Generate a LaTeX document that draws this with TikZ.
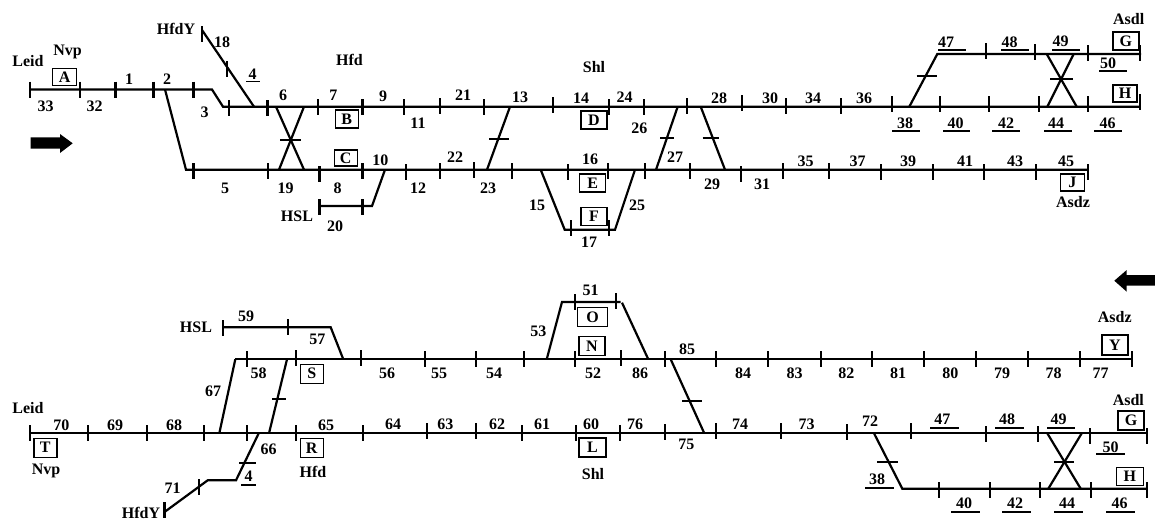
\documentclass[tikz,border=0pt]{standalone}
\usepackage{fontspec}
\setmainfont{Liberation Serif}
\tikzset{
  trk/.style={line width=2.2pt},
  tckl/.style={line width=2.2pt},
  bar/.style={line width=2pt},
  ul/.style={line width=1.6pt},
  num/.style={font=\fontsize{16}{18}\selectfont\bfseries,inner sep=0pt},
  stn/.style={draw,line width=1.4pt,font=\fontsize{16}{18}\selectfont\bfseries,inner sep=0pt,minimum width=#1,minimum height=18pt},
  stn/.default=25pt
}
\newcommand{\tck}[2]{\draw[tckl] (#1,#2-8) -- (#1,#2+8);}
\newcommand{\ul}[3]{\draw[ul] (#1,#3) -- (#2,#3);}
\begin{document}
\begin{tikzpicture}[x=1pt,y=-1pt]
\useasboundingbox (0,0) rectangle (1155,520);

% ============ upper plan: tracks ============
\draw[trk] (30,89.5) -- (212,89.5) -- (223,106.7) -- (1140,106.7);
\draw[trk] (165,89.5) -- (186,169.7) -- (1088,169.7);
\draw[trk] (202,30) -- (254,106.7);
\draw[trk] (385,169.7) -- (372,206) -- (319.5,206);
\draw[trk] (276,106.7) -- (304,169.7);
\draw[trk] (304,106.7) -- (279,169.7);
\draw[trk] (510,106.7) -- (487,169.7);
\draw[trk] (677.7,106.7) -- (656,169.7);
\draw[trk] (700.7,106.7) -- (725,169.7);
\draw[trk] (540.7,169.7) -- (564.7,229.7) -- (615,229.7) -- (635,169.7);
\draw[trk] (909.3,106.7) -- (937.3,54) -- (1141,54);
\draw[trk] (1046.7,54) -- (1076.7,106.7);
\draw[trk] (1073.7,54) -- (1047.3,106.7);

% ticks
\tck{30}{89.5} \tck{80}{89.5} \tck{115.5}{89.5} \tck{153.5}{89.5} \tck{193.5}{89.5}
\tck{202}{34} \tck{227}{69}
\tck{229}{108} \tck{267.5}{108} \tck{318}{107} \tck{362.5}{107} \tck{404.3}{107} \tck{440}{106} \tck{484}{107}
\tck{552.7}{105} \tck{609.3}{107} \tck{644}{107} \tck{687.3}{106} \tck{741.7}{103} \tck{786}{106} \tck{840.7}{106} \tck{891.7}{104}
\tck{939.7}{104} \tck{989.3}{104} \tck{1039}{104} \tck{1087.7}{104} \tck{1140}{102}
\tck{193.5}{171} \tck{268}{171} \tck{319.5}{174} \tck{362.5}{171} \tck{405.7}{172} \tck{440}{171} \tck{474}{170}
\tck{511.7}{171} \tck{568.3}{172} \tck{608.3}{171} \tck{645.3}{171} \tck{690}{171} \tck{741}{174}
\tck{783.3}{171} \tck{829.3}{171} \tck{880.7}{172} \tck{932.7}{172} \tck{984}{172} \tck{1035.7}{172} \tck{1088}{172}
\tck{319.5}{207} \tck{362.5}{207}
\tck{570.7}{228} \tck{609.3}{228}
\tck{985.7}{51} \tck{1035.3}{52} \tck{1087.7}{53} \tck{1140.3}{53}

% bars on the crossovers
\draw[bar] (280,140) -- (301,140);
\draw[bar] (489,138.7) -- (509,138.7);
\draw[bar] (660,138) -- (674,138);
\draw[bar] (702.7,138) -- (719,138);
\draw[bar] (916.7,76) -- (937.3,76);
\draw[bar] (1050,78.7) -- (1072.7,78.7);

% underlined numbers
\ul{246}{260}{81.3}
\ul{938.3}{965.7}{49.7} \ul{1001}{1028.7}{49.7} \ul{1052.3}{1080}{49.7} \ul{1099.3}{1126.7}{70.7}
\ul{892}{919.7}{130.7} \ul{943}{970}{130.7} \ul{992.3}{1019.7}{130.7} \ul{1044}{1072}{130.7} \ul{1094}{1121.7}{130.7}

% direction arrow
\fill (30.5,137.3) -- (60,137.3) -- (60,134) -- (72.7,143.3) -- (60,153) -- (60,148.7) -- (30.5,148.7) -- cycle;

% places
\node[num] (leid) at (28,61) {Leid};
\node[num] (nvp) at (67.5,52) {Nvp};
\node[num] (hfdy) at (176,29) {HfdY};
\node[num] (hfd) at (349.5,60) {Hfd};
\node[num] (hsl) at (297,216) {HSL};
\node[num] (shl) at (594,67) {Shl};
\node[num] (asdl) at (1128.7,19) {Asdl};
\node[num] (asdz) at (1073,202) {Asdz};

% boxes
\node[stn=24pt,minimum height=17pt] (boxA) at (64.7,77.2) {A};
\node[stn=23pt] (boxB) at (346.7,119) {B};
\node[stn=23pt,minimum height=16pt] (boxC) at (345.7,158) {C};
\node[stn=26pt] (boxD) at (594,120) {D};
\node[stn=26pt] (boxE) at (592.7,183) {E};
\node[stn=26pt] (boxF) at (594,216.5) {F};
\node[stn=26pt] (boxG) at (1125.8,41) {G};
\node[stn=24pt,minimum height=17pt] (boxH) at (1125,93.5) {H};
\node[stn=24pt,minimum height=17pt] (boxJ) at (1072.3,182.3) {J};

% numbers
\node[num] (n33) at (45.5,106) {33};
\node[num] (n32) at (94.5,106) {32};
\node[num] (n1) at (129,79) {1};
\node[num] (n2) at (167,79) {2};
\node[num] (n3) at (204.7,112) {3};
\node[num] (n4) at (252.5,74.5) {4};
\node[num] (n18) at (222,42) {18};
\node[num] (n6) at (283,95.7) {6};
\node[num] (n7) at (333.3,95) {7};
\node[num] (n9) at (383,96) {9};
\node[num] (n10) at (380.3,160.7) {10};
\node[num] (n5) at (225,188) {5};
\node[num] (n19) at (285.7,188) {19};
\node[num] (n8) at (337.7,188) {8};
\node[num] (n20) at (335,226) {20};
\node[num] (n21) at (463,95) {21};
\node[num] (n13) at (520,97) {13};
\node[num] (n14) at (581,98) {14};
\node[num] (n24) at (624.7,97) {24};
\node[num] (n28) at (719,98) {28};
\node[num] (n30) at (770,98) {30};
\node[num] (n11) at (418,123) {11};
\node[num] (n26) at (639.3,128) {26};
\node[num] (n22) at (455,157) {22};
\node[num] (n16) at (590,159) {16};
\node[num] (n27) at (675,157) {27};
\node[num] (n12) at (418,188) {12};
\node[num] (n23) at (488,188) {23};
\node[num] (n29) at (712,184) {29};
\node[num] (n31) at (762,184) {31};
\node[num] (n15) at (537,205) {15};
\node[num] (n25) at (637,205) {25};
\node[num] (n17) at (589,242) {17};
\node[num] (n34) at (813,98) {34};
\node[num] (n36) at (864,98) {36};
\node[num] (n35) at (805.7,161) {35};
\node[num] (n37) at (857.7,161) {37};
\node[num] (n39) at (908,161) {39};
\node[num] (n41) at (965,161) {41};
\node[num] (n43) at (1015,161) {43};
\node[num] (n45) at (1066,161) {45};
\node[num] (n47) at (946,42) {47};
\node[num] (n48) at (1009.7,42) {48};
\node[num] (n49) at (1060.7,41) {49};
\node[num] (n50) at (1108,63) {50};
\node[num] (n38) at (905,123) {38};
\node[num] (n40) at (955.7,123) {40};
\node[num] (n42) at (1006,123) {42};
\node[num] (n44) at (1056,123) {44};
\node[num] (n46) at (1107.7,123) {46};

% ============ lower plan: tracks ============
\draw[trk] (235.3,359.3) -- (1131.7,359.3);
\draw[trk] (30,433.3) -- (1146.7,433.3);
\draw[trk] (223,327.3) -- (330.7,327.3) -- (343.3,359.3);
\draw[trk] (219.3,433.3) -- (235.3,359.3);
\draw[trk] (287,359.3) -- (269,433.3);
\draw[trk] (258.7,433.3) -- (236,480.3) -- (207.7,480.3) -- (164.5,512);
\draw[trk] (670.7,359.3) -- (704.3,433.3);
\draw[trk] (546.7,359.3) -- (562,302) -- (620.7,302);
\draw[trk] (622,302.7) -- (648.3,359.3);
\draw[trk] (874,433.3) -- (902.3,488.7) -- (1146.7,488.7);
\draw[trk] (1047.3,433.3) -- (1080.7,488.7);
\draw[trk] (1081.7,433.3) -- (1048.3,488.7);

% ticks
\tck{223}{328} \tck{288}{327.3}
\tck{247}{359} \tck{296}{358} \tck{360.7}{358} \tck{425}{359} \tck{476}{359} \tck{524}{359} \tck{574.7}{359} \tck{620.7}{358}
\tck{664.7}{359} \tck{716.3}{359} \tck{768.3}{359} \tck{820.7}{359} \tck{871.7}{359} \tck{923.7}{359} \tck{976}{359} \tck{1028.3}{359} \tck{1079.7}{359} \tck{1131.7}{359}
\tck{30}{433} \tck{88}{433} \tck{146.7}{433} \tck{204.3}{433} \tck{247.3}{433} \tck{296.3}{433} \tck{363}{433}
\tck{426.7}{431} \tck{476.3}{431} \tck{522}{433} \tck{575.7}{433} \tck{620}{433} \tck{664.7}{432} \tck{716.3}{431}
\tck{780.7}{431} \tck{846.7}{432} \tck{911.3}{431} \tck{986}{434} \tck{1037.7}{434} \tck{1090.3}{436} \tck{1146.7}{436}
\tck{574.7}{302} \tck{616.3}{301}
\tck{199}{487} \tck{164.5}{510}
\tck{939.3}{490} \tck{989.7}{490} \tck{1040.3}{490} \tck{1091}{490} \tck{1146.7}{490}

% bars on the crossovers
\draw[bar] (272,399) -- (286,399);
\draw[bar] (239,462.7) -- (256,462.7);
\draw[bar] (682,400.7) -- (701.7,400.7);
\draw[bar] (877.3,461.7) -- (897.7,461.7);
\draw[bar] (1054.3,462.3) -- (1074,462.3);

% underlined numbers
\ul{241}{255.7}{485}
\ul{930.3}{959}{427.7} \ul{995.3}{1023.7}{427.7} \ul{1047.3}{1075}{427.7} \ul{1096.3}{1124.7}{454}
\ul{865.3}{893.7}{487.7} \ul{951}{979.7}{512} \ul{1002}{1030.7}{512} \ul{1054}{1083}{512} \ul{1106.3}{1135}{512}

% direction arrow
\fill (1155,275) -- (1126.7,275) -- (1126.7,270) -- (1114.3,280.7) -- (1126.7,291.7) -- (1126.7,285.7) -- (1155,285.7) -- cycle;

% places
\node[num] (hsl2) at (196,327) {HSL};
\node[num] (leid2) at (28,408) {Leid};
\node[num] (nvp2) at (46,471) {Nvp};
\node[num] (hfdy2) at (141,513) {HfdY};
\node[num] (hfd2) at (313,472) {Hfd};
\node[num] (shl2) at (593,474) {Shl};
\node[num] (asdz2) at (1114.7,317) {Asdz};
\node[num] (asdl2) at (1128.3,400) {Asdl};

% boxes
\node[stn=23pt,minimum height=19pt] (boxS) at (311.8,373.7) {S};
\node[stn=23pt,minimum height=19pt] (boxT) at (45.3,447.7) {T};
\node[stn=23pt,minimum height=19pt] (boxR) at (311.7,447.8) {R};
\node[stn=30pt,minimum height=19pt] (boxO) at (592.7,317) {O};
\node[stn=26pt,minimum height=19pt] (boxN) at (591.8,346.2) {N};
\node[stn=27pt,minimum height=19pt] (boxL) at (592.5,447.5) {L};
\node[stn=26pt,minimum height=20pt] (boxY) at (1114.8,345) {Y};
\node[stn=26pt,minimum height=19pt] (boxG2) at (1131,420.3) {G};
\node[stn=27pt] (boxH2) at (1129.8,476.5) {H};

% numbers
\node[num] (n59) at (246,316.7) {59};
\node[num] (n57) at (317.3,339) {57};
\node[num] (n58) at (258.7,373) {58};
\node[num] (n56) at (387,373) {56};
\node[num] (n67) at (213,391) {67};
\node[num] (n70) at (61.3,425) {70};
\node[num] (n69) at (115,425) {69};
\node[num] (n68) at (174,425) {68};
\node[num] (n65) at (326,425) {65};
\node[num] (n64) at (393,424) {64};
\node[num] (n66) at (268.7,449) {66};
\node[num] (n4b) at (248.7,476) {4};
\node[num] (n71) at (172.7,488) {71};
\node[num] (n55) at (439,373) {55};
\node[num] (n54) at (494,373) {54};
\node[num] (n52) at (593,373) {52};
\node[num] (n86) at (640,373) {86};
\node[num] (n84) at (743,373) {84};
\node[num] (n83) at (794.7,373) {83};
\node[num] (n82) at (846.3,373) {82};
\node[num] (n81) at (898,373) {81};
\node[num] (n80) at (950.3,373) {80};
\node[num] (n79) at (1002,373) {79};
\node[num] (n78) at (1053.7,373) {78};
\node[num] (n77) at (1100.7,373) {77};
\node[num] (n85) at (687,349.5) {85};
\node[num] (n51) at (590.7,290) {51};
\node[num] (n53) at (538.3,331) {53};
\node[num] (n63) at (445.3,424) {63};
\node[num] (n62) at (497,424) {62};
\node[num] (n61) at (542,424) {61};
\node[num] (n60) at (591,424) {60};
\node[num] (n76) at (635,424) {76};
\node[num] (n74) at (740,424) {74};
\node[num] (n73) at (806.7,424) {73};
\node[num] (n72) at (870,421) {72};
\node[num] (n75) at (686.3,444) {75};
\node[num] (n47b) at (942.3,419) {47};
\node[num] (n48b) at (1007,419) {48};
\node[num] (n49b) at (1058.7,419) {49};
\node[num] (n50b) at (1110.7,447) {50};
\node[num] (n38b) at (877,479) {38};
\node[num] (n40b) at (964,503) {40};
\node[num] (n42b) at (1015,503) {42};
\node[num] (n44b) at (1067,503) {44};
\node[num] (n46b) at (1119.7,503) {46};

\end{tikzpicture}
\end{document}
